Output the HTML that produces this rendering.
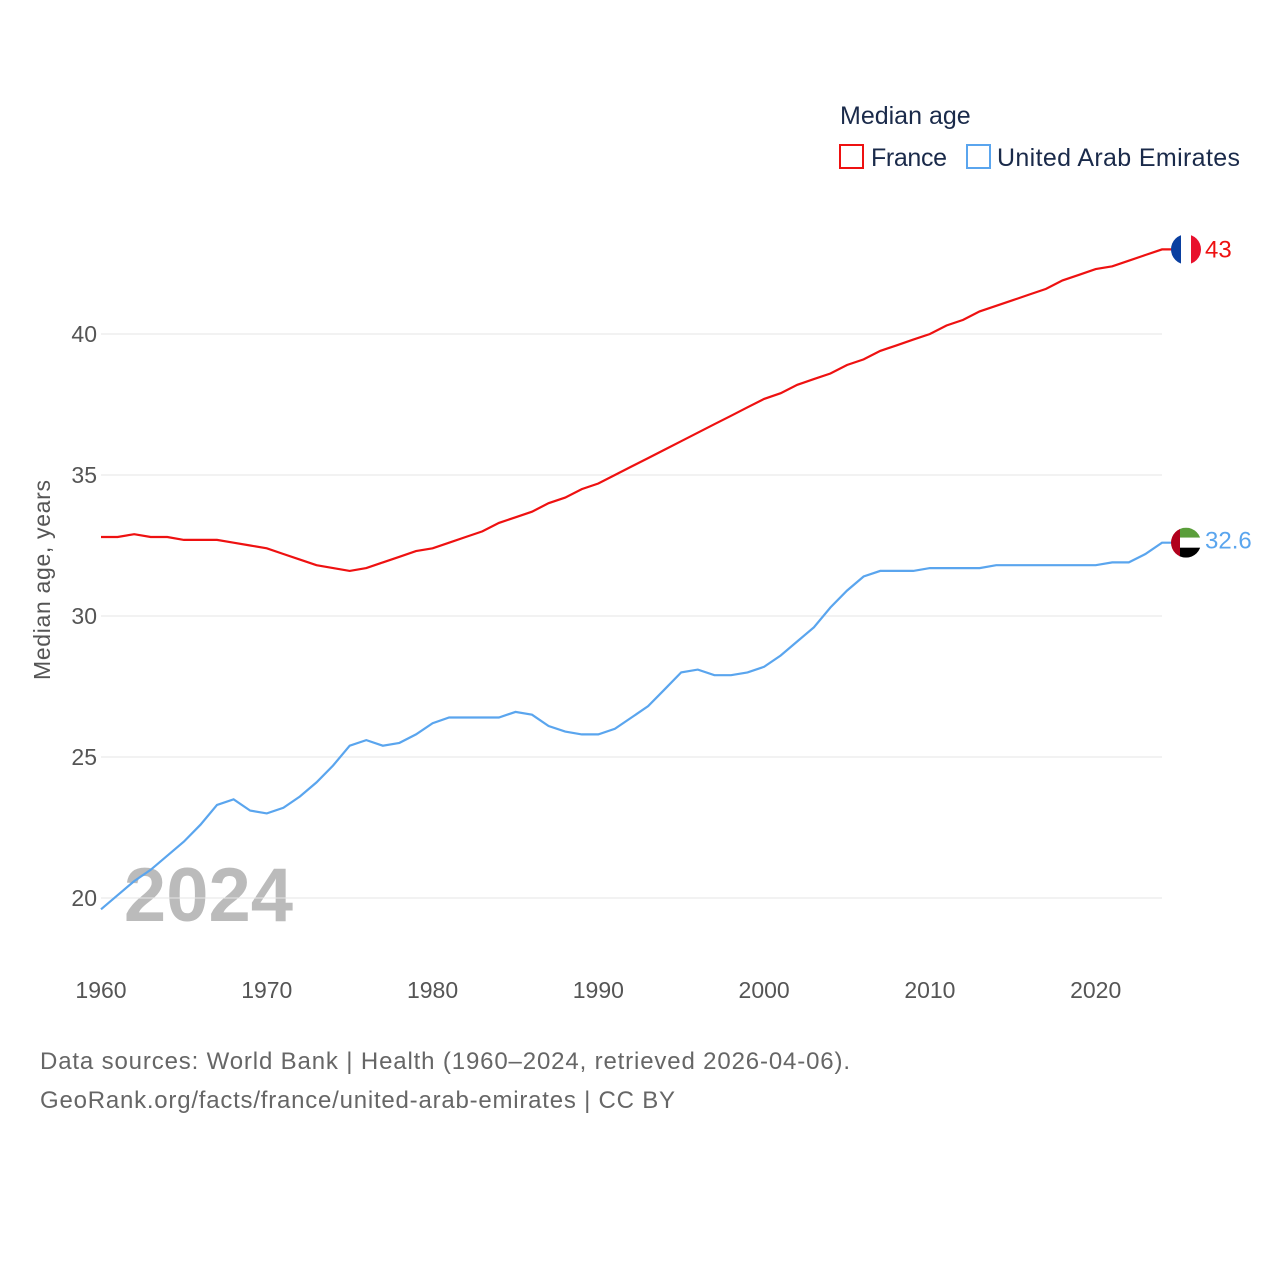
<!DOCTYPE html>
<html><head><meta charset="utf-8"><style>
body{margin:0;background:#fff;}
svg{display:block;font-family:"Liberation Sans",sans-serif;}
</style></head><body>
<svg id="chart" width="1280" height="1280" viewBox="0 0 1280 1280">
<text x="840" y="124" font-size="25" fill="#1a2a4a">Median age</text>
<g>
<rect x="840" y="145" width="23" height="23" fill="none" stroke="#ee1111" stroke-width="2"/>
<text x="871" y="166" font-size="25" fill="#1a2a4a" textLength="76">France</text></g>
<g>
<rect x="967" y="145" width="23" height="23" fill="none" stroke="#5aa5ee" stroke-width="2"/>
<text x="997" y="166" font-size="25" fill="#1a2a4a" textLength="243">United Arab Emirates</text></g>
<text x="293" y="921" font-size="76" font-weight="bold" fill="#bbbbbb" text-anchor="end">2024</text>
<g id="grid"></g><g id="series"></g>
<text transform="translate(50,580) rotate(-90)" font-size="23" fill="#555" text-anchor="middle" textLength="200">Median age, years</text>
<text x="40" y="1069" font-size="24" fill="#666" textLength="810">Data sources: World Bank | Health (1960–2024, retrieved 2026-04-06).</text>
<text x="40" y="1108" font-size="24" fill="#666" textLength="635">GeoRank.org/facts/france/united-arab-emirates | CC BY</text>
<defs>
<clipPath id="c1"><circle cx="1186" cy="248" r="15"/></clipPath>
<clipPath id="c2"><circle cx="1186" cy="542" r="15"/></clipPath>
</defs>
</svg>
<script>
const years=[];for(let y=1960;y<=2024;y++)years.push(y);
const france=[32.8,32.8,32.9,32.8,32.8,32.7,32.7,32.7,32.6,32.5,32.4,32.2,32.0,31.8,31.7,31.6,31.7,31.9,32.1,32.3,32.4,32.6,32.8,33.0,33.3,33.5,33.7,34.0,34.2,34.5,34.7,35.0,35.3,35.6,35.9,36.2,36.5,36.8,37.1,37.4,37.7,37.9,38.2,38.4,38.6,38.9,39.1,39.4,39.6,39.8,40.0,40.3,40.5,40.8,41.0,41.2,41.4,41.6,41.9,42.1,42.3,42.4,42.6,42.8,43.0];
const uae=[19.6,20.1,20.6,21.0,21.5,22.0,22.6,23.3,23.5,23.1,23.0,23.2,23.6,24.1,24.7,25.4,25.6,25.4,25.5,25.8,26.2,26.4,26.4,26.4,26.4,26.6,26.5,26.1,25.9,25.8,25.8,26.0,26.4,26.8,27.4,28.0,28.1,27.9,27.9,28.0,28.2,28.6,29.1,29.6,30.3,30.9,31.4,31.6,31.6,31.6,31.7,31.7,31.7,31.7,31.8,31.8,31.8,31.8,31.8,31.8,31.8,31.9,31.9,32.2,32.6];
const yTicks=[20,25,30,35,40];
const xTicks=[1960,1970,1980,1990,2000,2010,2020];
const labels=["43","32.6"];
const X=v=>101+(v-1960)*(1162-101)/64;
const Y=v=>898-(v-20)*28.2;
const NS="http://www.w3.org/2000/svg";
const svg=document.getElementById('chart'),grid=document.getElementById('grid'),ser=document.getElementById('series');
function mk(t,a,p){const e=document.createElementNS(NS,t);for(const k in a)e.setAttribute(k,a[k]);p.appendChild(e);return e;}
yTicks.forEach(v=>{
const l=mk('line',{x1:101,x2:1162,y1:Y(v),y2:Y(v),stroke:'#e6e6e6','stroke-width':1},grid);


const t=mk('text',{x:97,y:Y(v)+8,'font-size':23,fill:'#555','text-anchor':'end'},grid);t.textContent=v;


});
xTicks.forEach(v=>{
const t=mk('text',{x:X(v),y:998,'font-size':23,fill:'#555','text-anchor':'middle'},grid);t.textContent=v;


});
function line(d,c,name){
const last=d[d.length-1];
const p=mk('path',{d:d.map((v,i)=>(i?'L':'M')+X(years[i]).toFixed(1)+','+Y(v).toFixed(1)).join('')+'L1172,'+Y(last).toFixed(1),fill:'none',stroke:c,'stroke-width':2.2},ser);


}
line(france,'#ee1111','france-line');
line(uae,'#5aa5ee','uae-line');
const fy=Y(france[france.length-1]),uy=Y(uae[uae.length-1]);
const g1=mk('g',{'clip-path':'url(#c1)'},svg);


mk('rect',{x:1171,y:fy-15,width:10,height:30,fill:'#0a3fa0'},g1);
mk('rect',{x:1181,y:fy-15,width:10,height:30,fill:'#fff'},g1);
mk('rect',{x:1191,y:fy-15,width:10,height:30,fill:'#e8112d'},g1);
document.getElementById('c1').firstChild.setAttribute('cy',fy);
const g2=mk('g',{'clip-path':'url(#c2)'},svg);


mk('rect',{x:1179,y:uy-15,width:22,height:10,fill:'#5a9e3a'},g2);
mk('rect',{x:1179,y:uy-5,width:22,height:10,fill:'#fff'},g2);
mk('rect',{x:1179,y:uy+5,width:22,height:10,fill:'#000'},g2);
mk('rect',{x:1171,y:uy-15,width:9,height:30,fill:'#b1001c'},g2);
document.getElementById('c2').firstChild.setAttribute('cy',uy);
const t1=mk('text',{x:1205,y:fy+8,'font-size':24,fill:'#ee1111'},svg);t1.textContent=labels[0];


const t2=mk('text',{x:1205,y:uy+6,'font-size':24,fill:'#5aa5ee'},svg);t2.textContent=labels[1];


</script>
</body></html>
